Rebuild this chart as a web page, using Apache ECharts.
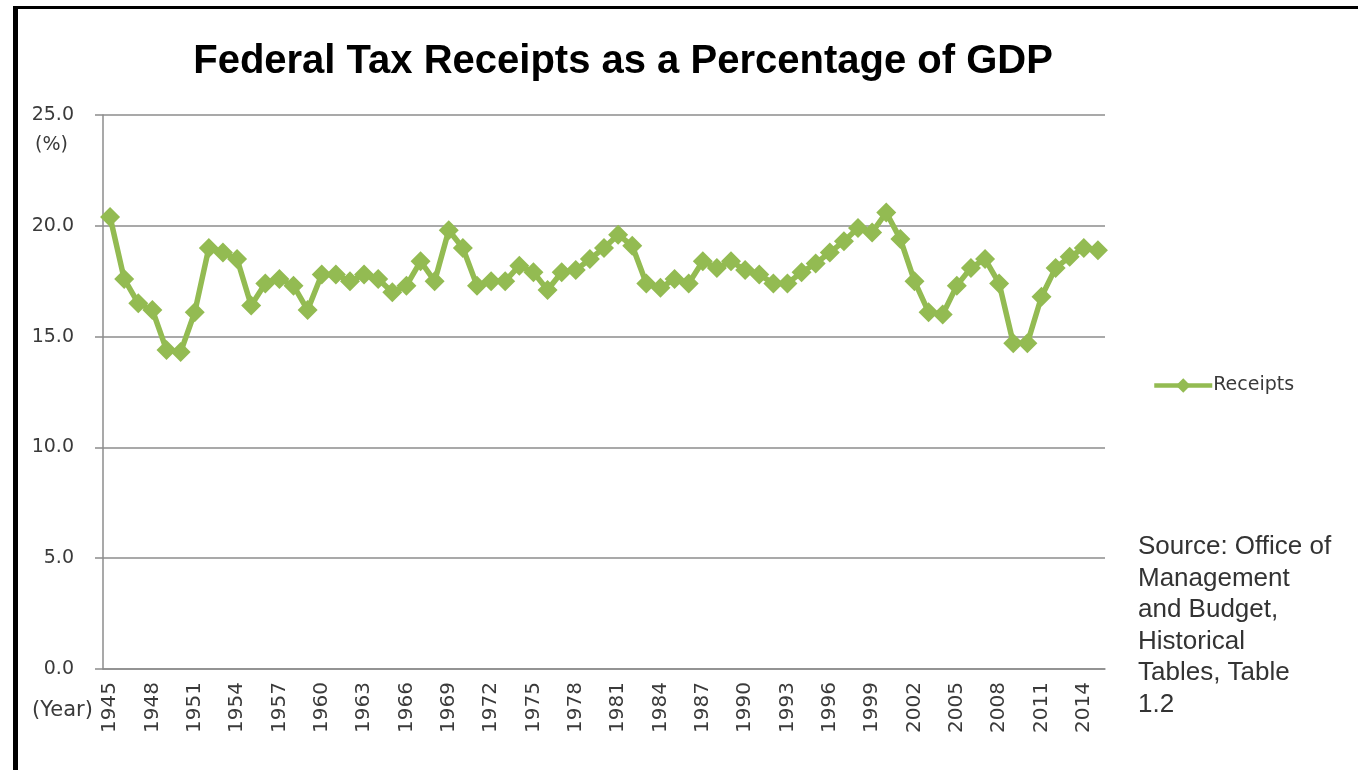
<!DOCTYPE html>
<html>
<head>
<meta charset="utf-8">
<script src="https://cdn.jsdelivr.net/npm/echarts@6/dist/echarts.min.js"></script>
<style>
  html, body { margin: 0; padding: 0; background: #fff; }
  #chart { width: 1358px; height: 770px; }
  #frame {
    position: absolute; left: 13px; top: 6px; width: 1345px; height: 764px;
    border-left: 5px solid #000; border-top: 3px solid #000;
    box-sizing: border-box; pointer-events: none;
  }
</style>
</head>
<body>
<div id="chart"></div>
<div id="frame"></div>
<script>
const years = [];
for (let y = 1945; y <= 2015; y++) years.push(String(y));

const receipts = [
  20.4, 17.6, 16.5, 16.2, 14.4, 14.3, 16.1, 19.0, 18.8, 18.5,
  16.4, 17.4, 17.6, 17.3, 16.2, 17.8, 17.8, 17.5, 17.8, 17.6,
  17.0, 17.3, 18.4, 17.5, 19.8, 19.0, 17.3, 17.5, 17.5, 18.2,
  17.9, 17.1, 17.9, 18.0, 18.5, 19.0, 19.6, 19.1, 17.4, 17.2,
  17.6, 17.4, 18.4, 18.1, 18.4, 18.0, 17.8, 17.4, 17.4, 17.9,
  18.3, 18.8, 19.3, 19.9, 19.7, 20.6, 19.4, 17.5, 16.1, 16.0,
  17.3, 18.1, 18.5, 17.4, 14.7, 14.7, 16.8, 18.1, 18.6, 19.0,
  18.9
];

const yTicks = [0, 5, 10, 15, 20, 25];

const green = '#93bb52';
const axisGray = '#8c8c8c';
const textColor = '#3a3a3a';

const chart = echarts.init(document.getElementById('chart'));

const option = {
  animation: false,
  backgroundColor: '#fff',
  title: {
    text: 'Federal Tax Receipts as a Percentage of GDP',
    left: 618,
    top: 37,
    textAlign: 'center',
    textStyle: {
      fontFamily: 'Liberation Sans',
      fontSize: 40,
      fontWeight: 'bold',
      color: '#000'
    }
  },
  legend: {
    left: 1147,
    top: 371,
    itemWidth: 58,
    itemHeight: 18,
    itemGap: 4,
    lineStyle: { width: 4.5 },
    textStyle: { fontFamily: 'DejaVu Sans', fontSize: 19, color: textColor, padding: [0, 0, 0, -4] },
    data: ['Receipts']
  },
  grid: { left: 103, right: 253, top: 115, bottom: 101 },
  xAxis: {
    type: 'category',
    data: years,
    boundaryGap: true,
    axisLine: { lineStyle: { color: axisGray, width: 1.5 } },
    axisTick: { interval: 0, length: 6, lineStyle: { color: axisGray, width: 1.5 } },
    axisLabel: {
      interval: 2,
      rotate: 90,
      margin: 13,
      fontFamily: 'DejaVu Sans',
      fontSize: 20,
      color: textColor
    },
    splitLine: { show: false }
  },
  yAxis: {
    type: 'value',
    min: yTicks[0],
    max: yTicks[yTicks.length - 1],
    interval: 5,
    axisLine: { show: true, lineStyle: { color: axisGray, width: 1.5 } },
    axisTick: { show: true, length: 8, lineStyle: { color: axisGray, width: 1.5 } },
    axisLabel: {
      margin: 29,
      fontFamily: 'DejaVu Sans',
      fontSize: 19,
      color: textColor,
      formatter: (v) => v.toFixed(1)
    },
    splitLine: { lineStyle: { color: axisGray, width: 1.5 } }
  },
  graphic: [
    {
      type: 'text', left: 35, top: 136,
      style: { text: '(%)', fontFamily: 'DejaVu Sans', fontSize: 19, fill: textColor }
    },
    {
      type: 'text', left: 32, top: 700,
      style: { text: '(Year)', fontFamily: 'DejaVu Sans', fontSize: 21, fill: textColor }
    },
    {
      type: 'text', left: 1138, top: 531,
      style: {
        text: 'Source: Office of\nManagement\nand Budget,\nHistorical\nTables, Table\n1.2',
        fontFamily: 'Liberation Sans',
        fontSize: 26,
        lineHeight: 31.6,
        fill: '#333'
      }
    }
  ],
  series: [
    {
      name: 'Receipts',
      type: 'line',
      data: receipts,
      symbol: 'diamond',
      symbolSize: 20,
      showAllSymbol: true,
      lineStyle: { color: green, width: 5.5 },
      itemStyle: { color: green }
    }
  ]
};

chart.setOption(option);
</script>
</body>
</html>
